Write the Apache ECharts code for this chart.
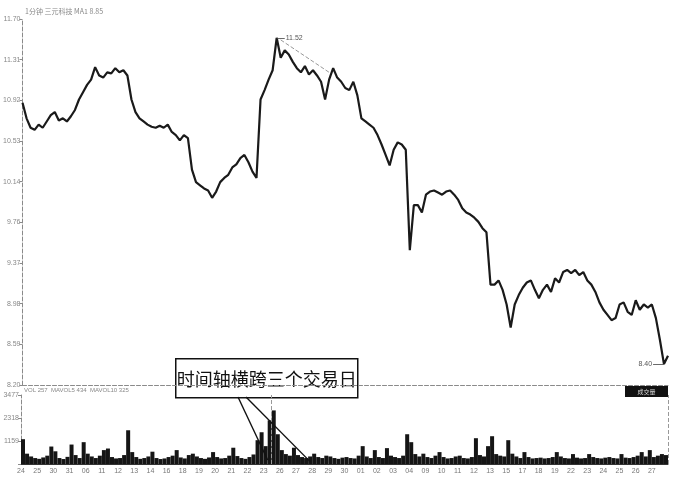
<!DOCTYPE html>
<html>
<head>
<meta charset="utf-8">
<script src="https://cdn.jsdelivr.net/npm/echarts/dist/echarts.min.js"></script>
<style>html,body{margin:0;padding:0;background:#fff;}#c{width:678px;height:481px;}</style>
</head>
<body>
<div id="c"></div>
<script>
// Day labels along the time axis (one per trading day, 4 samples per day)
const dayLabels = ["24","25","30","31","06","11","12","13","14","16","18","19","20","21","22","23","26","27","28","29",
                   "30","01","02","03","04","09","10","11","12","13","15","17","18","19","22","23","24","25","26","27"];
// Price (1-minute chart, sampled)
const priceValues = [
 10.90,10.75,10.66,10.64,10.69,10.66,10.72,10.78,10.81,10.73,
 10.75,10.72,10.77,10.83,10.93,11.00,11.07,11.12,11.24,11.16,
 11.14,11.19,11.18,11.23,11.19,11.21,11.16,10.93,10.81,10.75,
 10.72,10.69,10.67,10.66,10.68,10.66,10.69,10.62,10.59,10.54,
 10.59,10.56,10.26,10.14,10.11,10.08,10.06,9.99,10.05,10.14,
 10.18,10.21,10.28,10.31,10.37,10.40,10.33,10.24,10.18,10.93,
 11.02,11.12,11.21,11.52,11.33,11.40,11.36,11.29,11.23,11.19,
 11.25,11.17,11.21,11.16,11.10,10.93,11.12,11.23,11.14,11.10,
 11.04,11.02,11.10,10.97,10.75,10.72,10.69,10.66,10.59,10.50,
 10.40,10.30,10.45,10.52,10.50,10.45,9.49,9.92,9.92,9.85,
 10.02,10.05,10.06,10.04,10.02,10.05,10.06,10.02,9.97,9.89,
 9.85,9.83,9.80,9.76,9.70,9.66,9.16,9.16,9.20,9.11,
 8.97,8.75,8.97,9.06,9.13,9.18,9.20,9.11,9.03,9.11,
 9.16,9.09,9.22,9.18,9.28,9.30,9.27,9.30,9.25,9.28,
 9.20,9.16,9.09,8.99,8.92,8.87,8.82,8.84,8.97,8.99,
 8.90,8.87,9.01,8.92,8.97,8.94,8.97,8.84,8.63,8.40,
 8.48
];
// Volume (sampled)
const volumeValues = [
 1250,520,380,300,260,330,420,880,640,300,
 250,360,980,450,300,1100,520,380,300,420,
 700,780,350,280,300,450,1700,600,350,260,
 300,380,620,300,250,280,350,420,700,330,
 280,450,520,380,300,260,330,600,350,280,
 300,420,820,400,300,260,350,480,1200,1600,
 900,2200,2700,1500,700,500,420,820,450,350,
 300,380,520,350,300,420,380,300,260,320,
 350,300,280,420,900,380,300,700,350,300,
 800,420,350,300,420,1500,1100,500,380,520,
 350,300,420,600,350,280,300,380,420,300,
 280,350,1300,450,380,900,1400,500,420,380,
 1200,520,380,300,600,350,280,300,320,280,
 300,350,600,380,300,280,500,320,280,300,
 500,350,300,280,320,350,300,280,500,320,
 300,350,420,600,380,700,350,420,500,450
];
const priceMin = 8.20, priceMax = 11.70;
const volTicks = [1159, 2318, 3477];
const peakText = "11.52", lowText = "8.40";
const titleText = "1分钟 三元科技 MA1 8.85";
const volText = "VOL 257  MAVOL5 434  MAVOL10 325";
const calloutText = "时间轴横跨三个交易日";

const chart = echarts.init(document.getElementById('c'));
const gray = '#8a8a8a';
const option = {
  animation: false,
  backgroundColor: '#fff',
  grid: [
    {left: 21, right: 10, top: 19, bottom: 96},
    {left: 21, right: 10, top: 395, bottom: 17}
  ],
  xAxis: [
    {type: 'value', gridIndex: 0, min: 0, max: 160, interval: 4,
     axisLine: {show: true, onZero: false, lineStyle: {color: gray, type: 'dashed', width: 1}},
     axisTick: {show: false}, axisLabel: {show: false}, splitLine: {show: false}},
    {type: 'value', gridIndex: 1, min: 0, max: 160, interval: 4,
     axisLine: {show: true, onZero: false, lineStyle: {color: '#333', width: 1}},
     axisTick: {show: false},
     axisLabel: {fontSize: 7, color: '#777', margin: 4, fontFamily: 'Liberation Sans',
                 formatter: v => dayLabels[Math.round(v / 4)] || ''},
     splitLine: {show: false}}
  ],
  yAxis: [
    {type: 'value', gridIndex: 0, min: priceMin, max: priceMax, interval: (priceMax - priceMin) / 9,
     axisLine: {show: true, lineStyle: {color: gray, type: 'dashed'}},
     axisTick: {show: true, length: 3, lineStyle: {color: gray}},
     axisLabel: {fontSize: 7, color: '#888', margin: 2, fontFamily: 'Liberation Sans',
                 showMaxLabel: true, formatter: v => v.toFixed(2)},
     splitLine: {show: false}},
    {type: 'value', gridIndex: 1, min: 0, max: volTicks[2], interval: volTicks[0],
     axisLine: {show: true, lineStyle: {color: gray, type: 'dashed'}},
     axisTick: {show: true, length: 3, lineStyle: {color: gray}},
     axisLabel: {fontSize: 7, color: '#888', margin: 2, fontFamily: 'Liberation Sans',
                 formatter: v => v === 0 ? '' : String(v)},
     splitLine: {show: false}}
  ],
  series: [
    {type: 'line', xAxisIndex: 0, yAxisIndex: 0, symbol: 'none',
     data: priceValues.map((v, i) => [i, v]),
     lineStyle: {color: '#1a1a1a', width: 2.2},
     markLine: {
       silent: true, symbol: 'none', animation: false,
       data: [
         [{coord: [64, 11.50], lineStyle: {color: '#999', type: 'dashed', width: 1}, label: {show: false}},
          {coord: [76, 11.19]}],
         [{coord: [63, 11.52], lineStyle: {color: '#444', type: 'solid', width: 0.8},
           label: {show: true, position: 'end', formatter: peakText, fontSize: 7, color: '#555', distance: 1}},
          {coord: [65, 11.52]}],
         [{coord: [156.3, 8.40], lineStyle: {color: '#444', type: 'solid', width: 0.8},
           label: {show: true, position: 'start', formatter: lowText, fontSize: 7, color: '#555', distance: 1}},
          {coord: [159, 8.40]}],
         [{coord: [160, priceMin], lineStyle: {color: gray, type: 'dashed', width: 1}, label: {show: false}},
          {coord: [160, priceMax + 0.1]}]
       ]
     }},
    {type: 'bar', xAxisIndex: 1, yAxisIndex: 1, barWidth: 4,
     data: volumeValues.map((v, i) => [i + 0.5, v]),
     itemStyle: {color: '#151515'},
     markLine: {
       silent: true, symbol: 'none', animation: false,
       label: {show: false},
       lineStyle: {color: '#999', type: 'dashed', width: 1},
       data: [{xAxis: 62}, {xAxis: 160}]
     }}
  ]
};
chart.setOption(option);

const a = chart.convertToPixel({xAxisIndex: 1, yAxisIndex: 1}, [61, 200]);
const b = chart.convertToPixel({xAxisIndex: 1, yAxisIndex: 1}, [71.5, 120]);
chart.setOption({
  graphic: [
    {type: 'text', left: 25, top: 8, style: {text: titleText, fontSize: 7, fill: '#888', fontFamily: 'Noto Sans CJK SC'}},
    {type: 'text', left: 24, top: 387, style: {text: volText, fontSize: 6, fill: '#888', fontFamily: 'Liberation Sans'}},
    {type: 'group', left: 625, top: 386, children: [
      {type: 'rect', shape: {x: 0, y: 0, width: 43, height: 11}, style: {fill: '#111'}},
      {type: 'text', x: 21.5, y: 5.5, style: {text: '成交量', fontSize: 6, fill: '#ddd', align: 'center', verticalAlign: 'middle', fontFamily: 'Noto Sans CJK SC'}}
    ]},
    {type: 'line', shape: {x1: 238, y1: 397, x2: a[0], y2: a[1]}, style: {stroke: '#111', lineWidth: 1.4}, z: 100},
    {type: 'line', shape: {x1: 246, y1: 397, x2: b[0], y2: b[1]}, style: {stroke: '#111', lineWidth: 1.4}, z: 100},
    {type: 'group', left: 175, top: 358, z: 101, children: [
      {type: 'rect', shape: {x: 0, y: 0, width: 182, height: 39}, style: {fill: '#fff', stroke: '#111', lineWidth: 1.5}},
      {type: 'text', x: 91, y: 20, style: {text: calloutText, fontSize: 18, fill: '#111', align: 'center', verticalAlign: 'middle', fontFamily: 'Noto Sans CJK SC'}}
    ]}
  ]
});
</script>
</body>
</html>
